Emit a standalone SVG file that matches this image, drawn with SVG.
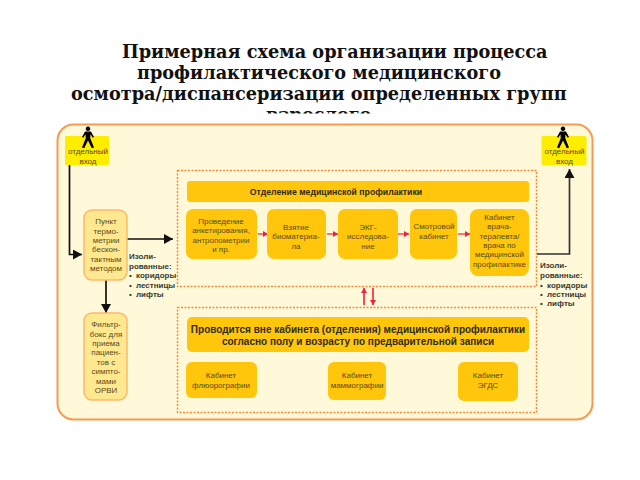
<svg xmlns="http://www.w3.org/2000/svg" width="640" height="480" viewBox="0 0 640 480">
<style>
text{font-family:"Liberation Sans",Arial,sans-serif;fill:#5a4a18;font-size:8px;text-anchor:middle}
.t{font-family:"DejaVu Serif",serif;font-weight:700;font-size:17.7px;fill:#111;text-anchor:start}
.b{fill:#ffc60b;}
.e{fill:#ffed00}
.f{fill:#ffe88f;stroke:#fbb96d;stroke-width:1.5}
.d{fill:none;stroke:#f58a3c;stroke-width:1.5;stroke-dasharray:2 1.5}
.h{font-weight:700;fill:#2e2a10;font-size:8.7px}
.h2{font-weight:700;fill:#2e2a10;font-size:10px}
.s{font-weight:700;fill:#3a3a30;font-size:8px;text-anchor:start}
.k{fill:none;stroke:#111;stroke-width:1.7}
.r{fill:none;stroke:#f0203c;stroke-width:1.2}
</style>
<defs>
<marker id="ak" markerUnits="userSpaceOnUse" markerWidth="10" markerHeight="10" refX="9" refY="5" orient="auto"><path d="M0 0L9 5L0 10z" fill="#111"/></marker>
<marker id="ar" markerUnits="userSpaceOnUse" markerWidth="6" markerHeight="6" refX="5" refY="3" orient="auto"><path d="M0 0L5 3L0 6z" fill="#f0203c"/></marker>
<path id="man" d="M0-10.500a2.300 2.300 0 1 1-.01 0zM-3-5.500H3L6 0 4.700.8 2.600-2.500 2.200 1 6 10.500 3.800 11.300 0 3.500-3.800 11.300-6 10.500-2.200 1-2.600-2.500-4.700.8-6 0z" fill="#000"/>
</defs>
<rect width="640" height="480" fill="#fff"/>
<g id="title">
<text class="t" x="122" y="58">Примерная схема организации процесса</text>
<text class="t" x="137" y="79">профилактического медицинского</text>
<text class="t" x="71" y="100">осмотра/диспансеризации определенных групп</text>
<text class="t" x="266" y="121">взрослого</text>
<rect x="240" y="113.500" width="160" height="12" fill="#fff"/>
</g>
<g id="panel"><rect x="57.500" y="124.500" width="535" height="295" rx="16" fill="#fff9d9" stroke="#f79a50" stroke-width="2"/></g>
<g id="zones"><rect class="d" x="177.500" y="170.500" width="359" height="116"/><rect class="d" x="177.500" y="307.500" width="359" height="105"/></g>
<g id="connectors">
<path class="k" d="M69.500 165V254.500H82" marker-end="url(#ak)"/>
<path class="k" d="M127 239H173" marker-end="url(#ak)"/>
<path class="k" d="M106 280V313" marker-end="url(#ak)"/>
<path class="k" d="M537 254H569.500V169" marker-end="url(#ak)" style="stroke:#333"/>
<path class="r" d="M258 234H268" marker-end="url(#ar)"/>
<path class="r" d="M327 234H338" marker-end="url(#ar)"/>
<path class="r" d="M398 234H409" marker-end="url(#ar)"/>
<path class="r" d="M458 234H470" marker-end="url(#ar)"/>
<path class="r" d="M364 305V288" marker-end="url(#ar)" style="stroke-width:1.6"/>
<path class="r" d="M373 288V305" marker-end="url(#ar)" style="stroke-width:1.6"/>
</g>
<g id="entry-left"><rect class="e" x="65" y="136" width="44" height="29" rx="1.500"/><use href="#man" x="88" y="137" /><text x="88" y="154">отдельный</text><text x="88" y="164">вход</text></g>
<g id="entry-right"><rect class="e" x="541.500" y="136" width="45" height="29" rx="1.500"/><use href="#man" x="563" y="137"/><text x="564.500" y="154">отдельный</text><text x="564.500" y="164">вход</text></g>
<g id="thermo"><rect class="f" x="84" y="210" width="43" height="70" rx="8"/><text x="106" y="224">Пункт</text><text x="106" y="234">термо-</text><text x="106" y="243">метрии</text><text x="106" y="252">бескон-</text><text x="106" y="262">тактным</text><text x="106" y="271">методом</text></g>
<g id="filter"><rect class="f" x="84" y="313" width="43" height="87" rx="8"/><text x="106" y="327">Фильтр-</text><text x="106" y="337">бокс для</text><text x="106" y="346">приема</text><text x="106" y="355">пациен-</text><text x="106" y="365">тов с</text><text x="106" y="374">симпто-</text><text x="106" y="384">мами</text><text x="106" y="393">ОРВИ</text></g>
<g id="iso-left"><text class="s" x="129" y="259">Изоли-</text><text class="s" x="129" y="269">рованные:</text><text class="s" x="129" y="278">•</text><text class="s" x="136" y="278">коридоры</text><text class="s" x="129" y="288">•</text><text class="s" x="136" y="288">лестницы</text><text class="s" x="129" y="297">•</text><text class="s" x="136" y="297">лифты</text></g>
<g id="iso-right"><text class="s" x="540" y="268">Изоли-</text><text class="s" x="540" y="278">рованные:</text><text class="s" x="540" y="288">•</text><text class="s" x="547" y="288">коридоры</text><text class="s" x="540" y="297">•</text><text class="s" x="547" y="297">лестницы</text><text class="s" x="540" y="306">•</text><text class="s" x="547" y="306">лифты</text></g>
<g id="head-top"><rect class="b" x="187" y="181" width="342" height="21" rx="3"/><text class="h" x="336" y="195">Отделение медицинской профилактики</text></g>
<g id="n1"><rect class="b" x="186" y="209" width="71" height="50" rx="7"/><text x="221" y="224">Проведение</text><text x="221" y="233">анкетирования,</text><text x="221" y="243">антропометрии</text><text x="221" y="252">и пр.</text></g>
<g id="n2"><rect class="b" x="267" y="209" width="59" height="50" rx="7"/><text x="296" y="230">Взятие</text><text x="296" y="239">биоматериа-</text><text x="296" y="249">ла</text></g>
<g id="n3"><rect class="b" x="338" y="209" width="60" height="50" rx="7"/><text x="368" y="230">ЭКГ-</text><text x="368" y="239">исследова-</text><text x="368" y="249">ние</text></g>
<g id="n4"><rect class="b" x="410" y="209" width="47" height="50" rx="7"/><text x="434" y="229">Смотровой</text><text x="434" y="239">кабинет</text></g>
<g id="n5"><rect class="b" x="470" y="209" width="59" height="67" rx="8"/><text x="499.500" y="220">Кабинет</text><text x="499.500" y="229">врача-</text><text x="499.500" y="239">терапевта/</text><text x="499.500" y="248">врача по</text><text x="499.500" y="257">медицинской</text><text x="499.500" y="267">профилактике</text></g>
<g id="head-bottom"><rect class="b" x="187" y="317" width="342" height="35" rx="5"/><text class="h2" x="358" y="333">Проводится вне кабинета (отделения) медицинской профилактики</text><text class="h2" x="358" y="345">согласно полу и возрасту по предварительной записи</text></g>
<g id="n6"><rect class="b" x="186" y="362" width="71" height="36" rx="6"/><text x="221" y="378">Кабинет</text><text x="221" y="388">флюорографии</text></g>
<g id="n7"><rect class="b" x="328" y="362" width="58" height="38" rx="6"/><text x="357" y="378">Кабинет</text><text x="357" y="388">маммографии</text></g>
<g id="n8"><rect class="b" x="458" y="362" width="60" height="39" rx="6"/><text x="488" y="378">Кабинет</text><text x="488" y="388">ЭГДС</text></g>
</svg>
